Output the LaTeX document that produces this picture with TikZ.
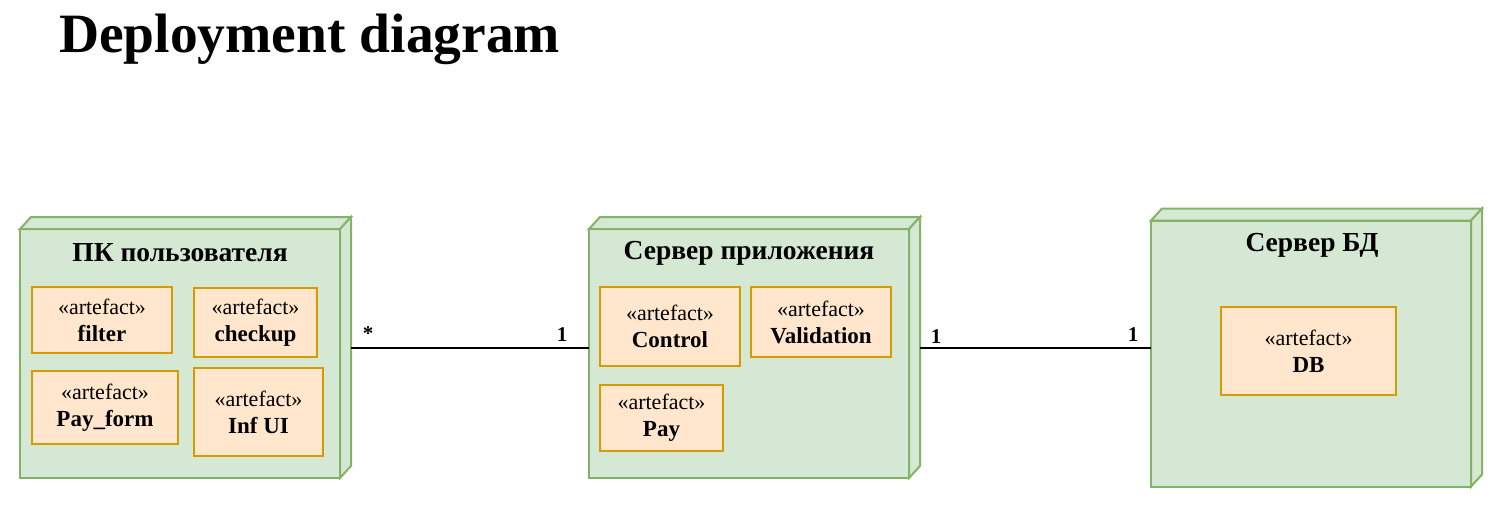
\documentclass[tikz,border=0pt]{standalone}
\usepackage{fontspec}
\setmainfont{Liberation Serif}
\usetikzlibrary{calc}
\definecolor{nodefill}{HTML}{D5E8D4}
\definecolor{nodedraw}{HTML}{82B366}
\definecolor{artfill}{HTML}{FFE6CC}
\definecolor{artdraw}{HTML}{D79B00}
\newcommand\mydevfaces[1]{%
  \filldraw[facestyle] ($(#1.south west)$) rectangle ($(#1.north east)+(-11,12)$);
  \filldraw[facestyle] ($(#1.north west)+(0,12)$) -- ($(#1.north west)+(11,0)$) -- (#1.north east) -- ($(#1.north east)+(-11,12)$) -- cycle;
  \filldraw[facestyle] ($(#1.north east)+(-11,12)$) -- (#1.north east) -- ($(#1.south east)+(0,-12)$) -- ($(#1.south east)+(-11,0)$) -- cycle;
}
\newcommand\artname[1]{{\fontsize{23}{27}\selectfont\bfseries #1}}
\begin{document}
\begin{tikzpicture}[x=1pt,y=-1pt,
  devbox/.style={draw=none,inner sep=0pt,outer sep=0pt,rectangle},
  facestyle/.style={fill=nodefill,draw=nodedraw,line width=2pt,line join=miter},
  art/.style={draw=artdraw,fill=artfill,line width=2pt,inner sep=0pt,outer sep=0pt,align=center,font=\fontsize{22}{27}\selectfont},
  nodetitle/.style={font=\fontsize{27.5}{30}\selectfont\bfseries,inner sep=0pt},
  mult/.style={font=\fontsize{21}{24}\selectfont\bfseries,inner sep=0pt},
  conn/.style={line width=2pt,black}]
\useasboundingbox[fill=white] (0,0) rectangle (1502,519);

\node[anchor=base west,inner sep=0pt,font=\fontsize{55.5}{60}\selectfont\bfseries] (title) at (59,53) {Deployment diagram};

% device nodes (full extent including depth)
\node[devbox,minimum width=331,minimum height=261] (pc) at (185.5,347.5) {};
\node[devbox,minimum width=331,minimum height=261] (app) at (754.5,347.5) {};
\node[devbox,minimum width=331,minimum height=278] (db) at (1316.5,347.5) {};
\mydevfaces{pc}
\mydevfaces{app}
\mydevfaces{db}

\node[nodetitle] (pct) at (180,253) {ПК пользователя};
\node[nodetitle] (appt) at (749,253) {Сервер приложения};
\node[nodetitle] (dbt) at (1312,245) {Сервер БД};

% artefacts
\node[art,minimum width=140,minimum height=66] (filter) at (102,320) {«artefact»\\\artname{filter}};
\node[art,minimum width=123,minimum height=69] (checkup) at (255.5,322.5) {«artefact»\\\artname{checkup}};
\node[art,minimum width=146,minimum height=73] (payform) at (105,407.5) {«artefact»\\\artname{Pay\_form}};
\node[art,minimum width=129,minimum height=88] (infui) at (258.5,412) {«artefact»\\\artname{Inf UI}};

\node[art,minimum width=140,minimum height=79] (control) at (670,326.5) {«artefact»\\\artname{Control}};
\node[art,minimum width=140,minimum height=70] (valid) at (821,322) {«artefact»\\\artname{Validation}};
\node[art,minimum width=123,minimum height=66] (pay) at (661.5,418) {«artefact»\\\artname{Pay}};

\node[art,minimum width=175,minimum height=88] (dbart) at (1308.5,351) {«artefact»\\\artname{DB}};

% connectors
\draw[conn] (pc.east) -- (app.west);
\draw[conn] (app.east) -- (db.west);

\node[mult] (m1) at (368,334) {*};
\node[mult] (m2) at (562,335) {1};
\node[mult] (m3) at (936,337) {1};
\node[mult] (m4) at (1133,335) {1};
\end{tikzpicture}
\end{document}
